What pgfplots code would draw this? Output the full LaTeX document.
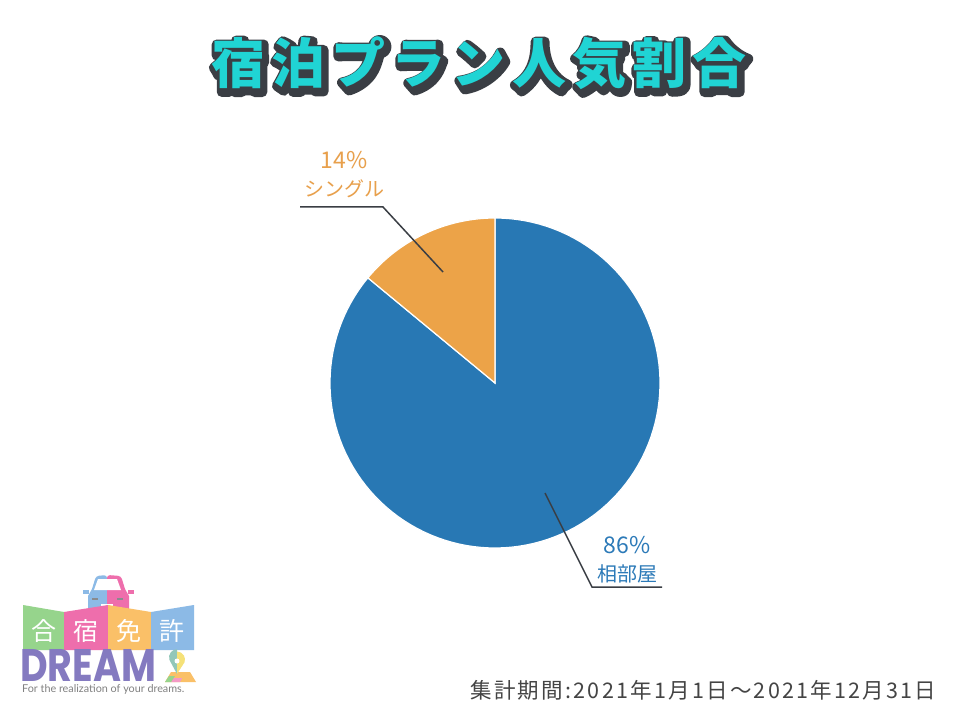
\documentclass[border=0pt]{standalone}
\usepackage{pgfplots}
\pgfplotsset{compat=1.18}
\usepackage{pgfplotstable}
\usetikzlibrary{calc}
\usepackage{fontspec}
\setmainfont{Noto Sans CJK JP}
\newfontfamily\pop{Poppins}
\newfontfamily\lat{Lato}
\definecolor{pieblue}{RGB}{40,120,180}
\definecolor{pieorange}{RGB}{236,163,72}
\definecolor{lblblue}{RGB}{44,122,184}
\definecolor{lblorange}{RGB}{232,160,76}
\definecolor{teal}{RGB}{32,212,212}
\definecolor{outl}{RGB}{58,62,68}
\definecolor{foot}{RGB}{68,68,68}
\definecolor{tg}{RGB}{150,212,140}
\definecolor{tp}{RGB}{238,110,172}
\definecolor{to}{RGB}{250,192,104}
\definecolor{tb}{RGB}{140,186,230}
\definecolor{dp}{RGB}{132,122,192}
\definecolor{py}{RGB}{245,225,120}
\newcommand{\strk}[2]{\special{pdf:code q 2 Tr #1 w 1 j 1 J}#2\special{pdf:code Q}}
\pgfplotstableread{
label share
相部屋 86
シングル 14
}\piedata
\begin{document}
\begin{tikzpicture}
\begin{axis}[width=960pt,height=720pt,scale only axis,hide axis,clip=false,
  xmin=0,xmax=960,ymin=0,ymax=720]
\fill[white] (axis cs:0,0) rectangle (axis cs:960,720);
% pie: blue 86% clockwise from top, orange 14%
\addplot[fill=pieblue, draw=white, line width=1.2pt, domain={90-3.6*86}:90, samples=120, variable=\t]
  ({495+165*cos(t)},{337+165*sin(t)}) -- (axis cs:495,337) -- cycle;
\addplot[fill=pieorange, draw=white, line width=1.2pt, domain=90:{90+3.6*14}, samples=40, variable=\t]
  ({495+165*cos(t)},{337+165*sin(t)}) -- (axis cs:495,337) -- cycle;
% leader lines
\draw[outl, line width=1.5pt] (axis cs:443,448) -- (axis cs:383,513) -- (axis cs:300,513);
\draw[outl, line width=1.5pt] (axis cs:545,227) -- (axis cs:592,133) -- (axis cs:662,133);
% labels
\node[lblorange, font=\fontsize{23}{23}\selectfont] at (axis cs:344,560) {14\%};
\node[lblorange, font=\fontsize{20}{20}\selectfont] at (axis cs:344,531) {シングル};
\node[lblblue, font=\fontsize{23}{23}\selectfont] at (axis cs:627,175) {86\%};
\node[lblblue, font=\fontsize{20}{20}\selectfont] at (axis cs:627,146) {相部屋};
% title: outline/shadow + fill in one node
\node[font=\fontsize{54}{54}\bfseries\selectfont\addfontfeature{LetterSpace=11.5}] at (axis cs:479,655)
  {\makebox[0pt][l]{\hspace{2pt}\raisebox{-3pt}{\color{outl}\strk{10}{宿泊プラン人気割合}}}\textcolor{teal}{宿泊プラン人気割合}};
% footer
\node[foot, anchor=east, font=\fontsize{21.5}{21.5}\selectfont\addfontfeature{LetterSpace=10.5}] at (axis cs:940,30) {集計期間:2021年1月1日～2021年12月31日};
% logo: car
\fill[tb] (axis cs:107,106) -- (axis cs:88,106) -- (axis cs:88,124) -- (axis cs:92,131) [rounded corners=3pt] -- (axis cs:96,144) -- (axis cs:107,145) [sharp corners] -- cycle;
\fill[tp] (axis cs:107,106) -- (axis cs:129,106) -- (axis cs:129,124) -- (axis cs:125,131) [rounded corners=3pt] -- (axis cs:121,144) -- (axis cs:107,145) [sharp corners] -- cycle;
\fill[tb] (axis cs:83,126) rectangle (axis cs:89,130);
\fill[tp] (axis cs:128,126) rectangle (axis cs:134,130);
\fill[white] (axis cs:94,130) -- (axis cs:98,141) -- (axis cs:117,141) -- (axis cs:121,130) -- cycle;
\fill[white] (axis cs:101,112) rectangle (axis cs:113,116);
\fill[outl!60] (axis cs:92,120) rectangle (axis cs:98,122);
\fill[outl!60] (axis cs:117,120) rectangle (axis cs:123,122);
% logo: tiles
\fill[tg] (axis cs:23,70) -- (axis cs:23,115) -- (axis cs:64,108) -- (axis cs:64,70) -- cycle;
\fill[tp] (axis cs:64,70) -- (axis cs:64,108) -- (axis cs:108,115) -- (axis cs:108,70) -- cycle;
\fill[to] (axis cs:108,70) -- (axis cs:108,115) -- (axis cs:151,108) -- (axis cs:151,70) -- cycle;
\fill[tb] (axis cs:151,70) -- (axis cs:151,108) -- (axis cs:194,115) -- (axis cs:194,70) -- cycle;
\node[white, font=\fontsize{25}{25}\selectfont] at (axis cs:44,89) {合};
\node[white, font=\fontsize{25}{25}\selectfont] at (axis cs:86,89) {宿};
\node[white, font=\fontsize{25}{25}\selectfont] at (axis cs:129,89) {免};
\node[white, font=\fontsize{25}{25}\selectfont] at (axis cs:172,89) {許};
% pin
\fill[to] (axis cs:165,38) -- (axis cs:196,38) -- (axis cs:190,48) -- (axis cs:171,48) -- cycle;
\fill[tp!70] (axis cs:171,38) -- (axis cs:180,38) -- (axis cs:182,42) -- (axis cs:173,42) -- cycle;
\fill[tg] (axis cs:165,38) -- (axis cs:169,44) -- (axis cs:175,44) -- (axis cs:171,38) -- cycle;
\fill[tb!50!tg] (axis cs:177,46) -- (axis cs:169.5,60) arc[start angle=200, end angle=90, radius=8pt] -- cycle;
\fill[py] (axis cs:177,46) -- (axis cs:177,68.5) arc[start angle=90, end angle=-20, radius=8pt] -- cycle;
\fill[white] (axis cs:177,59) circle[radius=2.5pt];
% DREAM and tagline in one node
\node[anchor=north west, inner sep=0pt, align=left] at (axis cs:20,71)
  {\textcolor{dp}{\pop\bfseries\fontsize{38}{38}\selectfont\scalebox{1.0}[1.2]{DREAM}}\\[-1pt]
   \textcolor{gray}{\hspace{2pt}\lat\fontsize{10.8}{11}\selectfont For the realization of your dreams.}};
\end{axis}
\end{tikzpicture}
\end{document}
